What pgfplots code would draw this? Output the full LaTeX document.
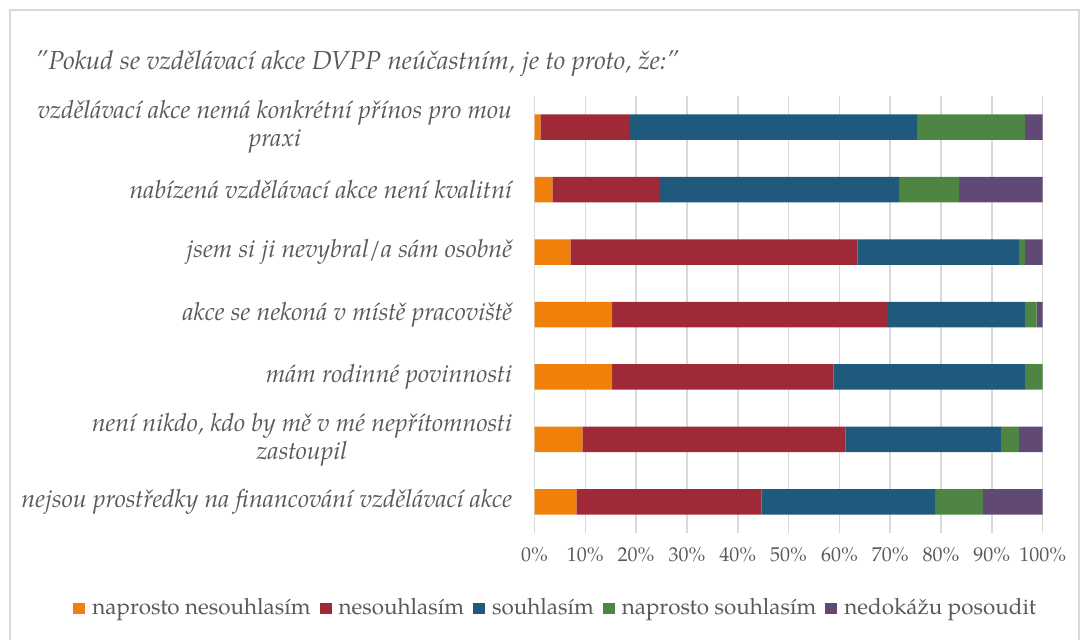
\documentclass[border=0pt]{standalone}
\usepackage{fontspec}
\setmainfont{TeX Gyre Pagella}
\usepackage{pgfplots}
\pgfplotsset{compat=1.18}
\definecolor{c1}{RGB}{240,128,10}
\definecolor{c2}{RGB}{160,41,56}
\definecolor{c3}{RGB}{31,89,124}
\definecolor{c4}{RGB}{78,133,66}
\definecolor{c5}{RGB}{97,73,118}
\definecolor{txt}{RGB}{89,89,89}
\definecolor{gridc}{RGB}{217,217,217}
\begin{document}
\begin{tikzpicture}
\useasboundingbox (0,0) rectangle (543pt,320pt);
\draw[gridc, line width=0.75pt] (5pt,-5pt) -- (5pt,315pt) -- (539.5pt,315pt) -- (539.5pt,-5pt);
\node[anchor=base west, inner sep=0pt, text=txt, font=\itshape\fontsize{13}{15}\selectfont] at (17.5pt,285pt)
 {"Pokud se vzdělávací akce DVPP neúčastním, je to proto, že:"};
\begin{axis}[
  at={(267.25pt,53.5pt)}, anchor=south west,
  scale only axis, width=254.1pt, height=218.5pt,
  xbar stacked, bar width=12.75pt,
  xmin=0, xmax=100, ymin=-0.5, ymax=6.5, y dir=reverse,
  xtick={0,10,...,100},
  xticklabel={\pgfmathprintnumber{\tick}\%},
  ytick={0,...,6},
  yticklabels={
    {vzdělávací akce nemá konkrétní přínos pro mou\\praxi},
    {nabízená vzdělávací akce není kvalitní},
    {jsem si ji nevybral/a sám osobně},
    {akce se nekoná v místě pracoviště},
    {mám rodinné povinnosti},
    {není nikdo, kdo by mě v mé nepřítomnosti\\zastoupil},
    {nejsou prostředky na financování vzdělávací akce}},
  xmajorgrids, ymajorgrids=false,
  major grid style={gridc, line width=0.75pt},
  axis line style={draw=none},
  major tick length=0pt,
  tick label style={text=txt},
  xticklabel style={font=\fontsize{10}{12}\selectfont, inner sep=0pt, yshift=-7pt, /pgf/number format/assume math mode=true},
  yticklabel style={font=\itshape\fontsize{12.5}{14}\selectfont, align=center, inner sep=0pt, xshift=-11pt},
  legend style={at={(0.04,-0.172)}, anchor=center, draw=none, fill=none,
    legend columns=5, font=\fontsize{11.2}{13}\selectfont, text=txt,
    nodes={inner sep=0pt},
    /tikz/every odd column/.append style={column sep=3.5pt},
    /tikz/every even column/.append style={column sep=4.5pt}},
  legend image code/.code={\fill[#1] (0pt,-2.75pt) rectangle (6pt,2.75pt);},
]
\addplot[fill=c1, draw=none] coordinates {(1.18,0) (3.53,1) (7.06,2) (15.29,3) (15.29,4) (9.41,5) (8.24,6)};
\addplot[fill=c2, draw=none] coordinates {(17.65,0) (21.18,1) (56.47,2) (54.12,3) (43.53,4) (51.76,5) (36.47,6)};
\addplot[fill=c3, draw=none] coordinates {(56.47,0) (47.06,1) (31.76,2) (27.06,3) (37.65,4) (30.59,5) (34.12,6)};
\addplot[fill=c4, draw=none] coordinates {(21.18,0) (11.76,1) (1.18,2) (2.35,3) (3.53,4) (3.53,5) (9.41,6)};
\addplot[fill=c5, draw=none] coordinates {(3.52,0) (16.47,1) (3.53,2) (1.18,3) (0,4) (4.71,5) (11.76,6)};
\legend{naprosto nesouhlasím, nesouhlasím, souhlasím, naprosto souhlasím, nedokážu posoudit}
\end{axis}
\end{tikzpicture}
\end{document}
